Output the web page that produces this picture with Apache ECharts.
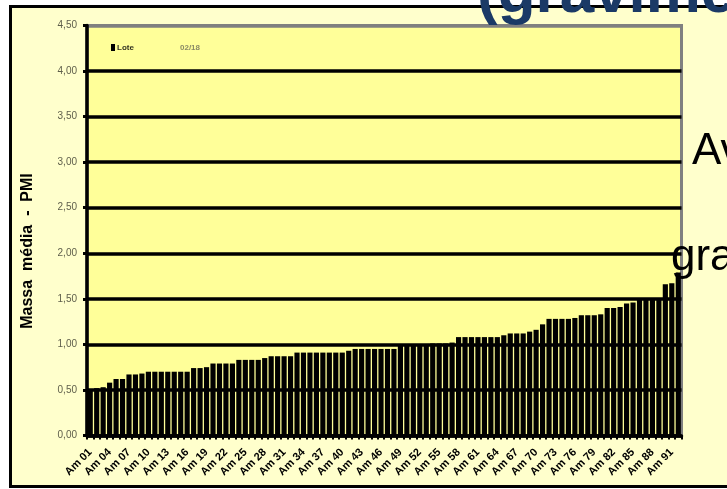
<!DOCTYPE html>
<html>
<head>
<meta charset="utf-8">
<script src="https://cdn.jsdelivr.net/npm/echarts/dist/echarts.min.js"></script>
<style>
  html, body { margin: 0; padding: 0; background: #ffffff; }
  #chart { width: 727px; height: 489px; }
</style>
</head>
<body>
<div id="chart"></div>
<script>
// Sample codes along the category axis
const categories = [
  'Am 01','Am 02','Am 03','Am 04','Am 05','Am 06','Am 07','Am 08','Am 09','Am 10',
  'Am 11','Am 12','Am 13','Am 14','Am 15','Am 16','Am 17','Am 18','Am 19','Am 20',
  'Am 21','Am 22','Am 23','Am 24','Am 25','Am 26','Am 27','Am 28','Am 29','Am 30',
  'Am 31','Am 32','Am 33','Am 34','Am 35','Am 36','Am 37','Am 38','Am 39','Am 40',
  'Am 41','Am 42','Am 43','Am 44','Am 45','Am 46','Am 47','Am 48','Am 49','Am 50',
  'Am 51','Am 52','Am 53','Am 54','Am 55','Am 56','Am 57','Am 58','Am 59','Am 60',
  'Am 61','Am 62','Am 63','Am 64','Am 65','Am 66','Am 67','Am 68','Am 69','Am 70',
  'Am 71','Am 72','Am 73','Am 74','Am 75','Am 76','Am 77','Am 78','Am 79','Am 80',
  'Am 81','Am 82','Am 83','Am 84','Am 85','Am 86','Am 87','Am 88','Am 89','Am 90',
  'Am 91','Am 92'
];

// Mean value per sample, sorted ascending
const values = [
  0.51, 0.52, 0.53, 0.58, 0.62, 0.62, 0.67, 0.67, 0.68, 0.70,
  0.70, 0.70, 0.70, 0.70, 0.70, 0.70, 0.74, 0.74, 0.75, 0.79,
  0.79, 0.79, 0.79, 0.83, 0.83, 0.83, 0.83, 0.85, 0.87, 0.87,
  0.87, 0.87, 0.91, 0.91, 0.91, 0.91, 0.91, 0.91, 0.91, 0.91,
  0.93, 0.95, 0.95, 0.95, 0.95, 0.95, 0.95, 0.95, 0.99, 1.00,
  1.00, 1.00, 1.00, 1.01, 1.01, 1.01, 1.02, 1.08, 1.08, 1.08,
  1.08, 1.08, 1.08, 1.08, 1.10, 1.12, 1.12, 1.12, 1.14, 1.16,
  1.22, 1.28, 1.28, 1.28, 1.28, 1.29, 1.32, 1.32, 1.32, 1.33,
  1.40, 1.40, 1.41, 1.45, 1.46, 1.50, 1.50, 1.50, 1.51, 1.66,
  1.67, 1.79
];

// Value axis range
const yMin = 0;
const yMax = 4.5;
const yStep = 0.5;

const seriesName = 'Lote';
const seriesTag = '02/18';
const yTitle = 'Massa  média  -  PMI';
const slideTitle = '(gravimetria)';
const slideLine1 = 'Avaliação';
const slideLine2 = 'gravimétrica';

const FONT = '"Liberation Sans", Arial, sans-serif';

// One colour per split line: black gridlines, grey frame at the top
const splitColors = [];
for (let v = yMin; v <= yMax + 1e-9; v += yStep) {
  splitColors.push(Math.abs(v - yMax) < 1e-9 ? '#808080' : '#000000');
}

const chart = echarts.init(document.getElementById('chart'), null, { renderer: 'canvas' });

chart.setOption({
  animation: false,
  backgroundColor: '#ffffff',
  textStyle: { fontFamily: FONT },
  grid: {
    left: 87, right: 45.5, top: 25.5, bottom: 53.5,
    show: true,
    backgroundColor: '#FFFF99',
    borderColor: '#808080',
    borderWidth: 3
  },
  xAxis: {
    type: 'category',
    data: categories,
    axisLine: { show: true, lineStyle: { color: '#000000', width: 3.5 } },
    axisTick: { show: true, interval: 0, length: 4, lineStyle: { color: '#000000', width: 2 } },
    axisLabel: {
      interval: 2,
      rotate: 45,
      margin: 15,
      fontSize: 11,
      fontWeight: 'bold',
      color: '#000000',
      fontFamily: FONT
    },
    splitLine: { show: false }
  },
  yAxis: {
    type: 'value',
    min: yMin,
    max: yMax,
    interval: yStep,
    axisLine: { show: true, lineStyle: { color: '#000000', width: 3.5 } },
    axisTick: { show: true, length: 4, lineStyle: { color: '#000000', width: 3 } },
    axisLabel: {
      margin: 10,
      fontSize: 10,
      color: '#5e5e4a',
      fontFamily: FONT,
      formatter: v => v.toFixed(2).replace('.', ',')
    },
    splitLine: { show: true, lineStyle: { color: splitColors, width: 3.5 } }
  },
  series: [{
    name: seriesName,
    type: 'bar',
    data: values,
    barCategoryGap: '20%',
    itemStyle: { color: '#000000' },
    z: 3
  }],
  graphic: [
    // cream page inside the frame
    { type: 'rect', z: -100, silent: true,
      shape: { x: 12, y: 8, width: 715, height: 477 },
      style: { fill: '#FFFFCC' } },
    // frame on left, top and bottom
    { type: 'polyline', z: 50, silent: true,
      shape: { points: [[727, 6.5], [10.5, 6.5], [10.5, 486.5], [727, 486.5]] },
      style: { stroke: '#000000', lineWidth: 3, fill: null } },
    // legend entry
    { type: 'rect', z: 60, silent: true,
      shape: { x: 111, y: 44, width: 4, height: 7 },
      style: { fill: '#000000' } },
    { type: 'text', z: 60, silent: true,
      style: { x: 117, y: 48, text: seriesName, font: 'bold 8px ' + FONT,
               fill: '#333322', verticalAlign: 'middle' } },
    { type: 'text', z: 60, silent: true,
      style: { x: 180, y: 48, text: seriesTag, font: 'bold 8px ' + FONT,
               fill: '#8a8a66', verticalAlign: 'middle' } },
    // value axis title
    { type: 'text', z: 60, silent: true,
      x: 28, y: 251, rotation: Math.PI / 2,
      style: { x: 0, y: 0, text: yTitle, font: 'bold 16px ' + FONT,
               fill: '#000000', align: 'center', verticalAlign: 'middle' } },
    // slide heading and body text around the chart
    { type: 'text', z: 100, silent: true,
      style: { x: 477, y: -5, text: slideTitle, font: 'bold 62px ' + FONT,
               fill: '#1b3a66', verticalAlign: 'middle' } },
    { type: 'text', z: 100, silent: true,
      style: { x: 692, y: 152, text: slideLine1, font: '44px ' + FONT,
               fill: '#000000', verticalAlign: 'middle' } },
    { type: 'text', z: 100, silent: true,
      style: { x: 671, y: 258, text: slideLine2, font: '44px ' + FONT,
               fill: '#000000', verticalAlign: 'middle' } }
  ]
});
</script>
</body>
</html>
